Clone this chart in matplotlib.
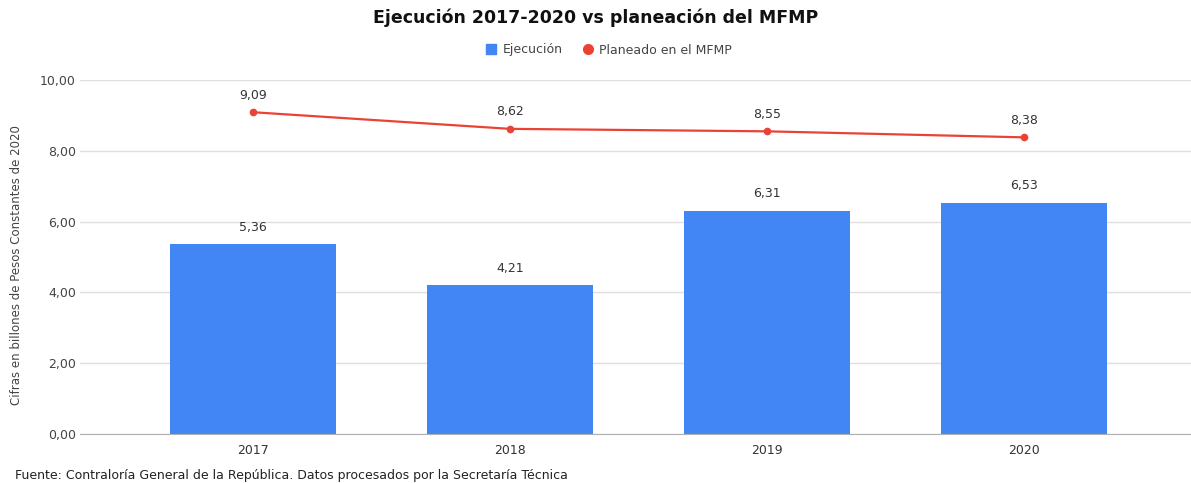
import matplotlib
matplotlib.use("Agg")
import matplotlib.pyplot as plt
from matplotlib.lines import Line2D
from matplotlib.patches import Patch

years = ["2017", "2018", "2019", "2020"]
ejecucion = [5.36, 4.21, 6.31, 6.53]
planeado = [9.09, 8.62, 8.55, 8.38]
yticks = [0, 2, 4, 6, 8, 10]

def fmt(v):
    return f"{v:.2f}".replace(".", ",")

plt.rcParams['font.family'] = ['DejaVu Sans']
W, H = 1191, 483
fig = plt.figure(figsize=(W / 100, H / 100), dpi=100)
ax = fig.add_axes([80 / W, 1 - 434 / H, (1191 - 80) / W, (434 - 80) / H])

x = list(range(len(years)))
blue = "#4285F4"
red = "#EA4335"
ax.bar(x, ejecucion, width=0.646, color=blue, zorder=2)
ax.plot(x, planeado, color=red, lw=1.6, marker="o", ms=4.5, zorder=3)

for xi, v in zip(x, ejecucion):
    ax.annotate(fmt(v), (xi, v), xytext=(0, 7.5), textcoords="offset points",
                ha="center", va="bottom", fontsize=9, color="#333333")
for xi, v in zip(x, planeado):
    ax.annotate(fmt(v), (xi, v), xytext=(0, 7.5), textcoords="offset points",
                ha="center", va="bottom", fontsize=9, color="#333333")

ax.set_xlim(-0.673, 3.65)
ax.set_ylim(0, 10)
ax.set_yticks(yticks)
ax.set_yticklabels([fmt(t) for t in yticks], fontsize=9, color="#444444")
ax.set_xticks(x)
ax.set_xticklabels(years, fontsize=9, color="#333333")
ax.tick_params(axis="x", length=0, pad=7)
ax.tick_params(axis="y", length=0, pad=3)
ax.yaxis.grid(True, color="#e0e0e0", lw=1, zorder=0)
ax.set_axisbelow(True)
for s in ["top", "right", "left"]:
    ax.spines[s].set_visible(False)
ax.spines["bottom"].set_color("#b0b0b0")
ax.spines["bottom"].set_zorder(4)

ax.set_ylabel("Cifras en billones de Pesos Constantes de 2020", fontsize=8.5,
              color="#444444")
ax.yaxis.set_label_coords(-57 / (1191 - 80), 0.477)

fig.text(0.5, 1 - 18 / H, "Ejecución 2017-2020 vs planeación del MFMP", ha="center",
         va="center", fontsize=12.5, fontweight="bold", color="#111111")

handles = [Patch(facecolor=blue, edgecolor=blue),
           Line2D([], [], color=red, marker="o", ls="none", ms=7)]
fig.legend(handles, ["Ejecución", "Planeado en el MFMP"], loc="center",
           bbox_to_anchor=(609 / W, 1 - 50 / H), ncol=2, frameon=False, fontsize=9,
           handlelength=0.8, handleheight=0.8, handletextpad=0.5, columnspacing=1.6,
           labelcolor="#444444")

fig.text(15 / W, 1 - 476 / H, "Fuente: Contraloría General de la República. Datos procesados por la Secretaría Técnica",
         ha="left", va="center", fontsize=9, color="#222222")

fig.savefig("out.png", dpi=100)
